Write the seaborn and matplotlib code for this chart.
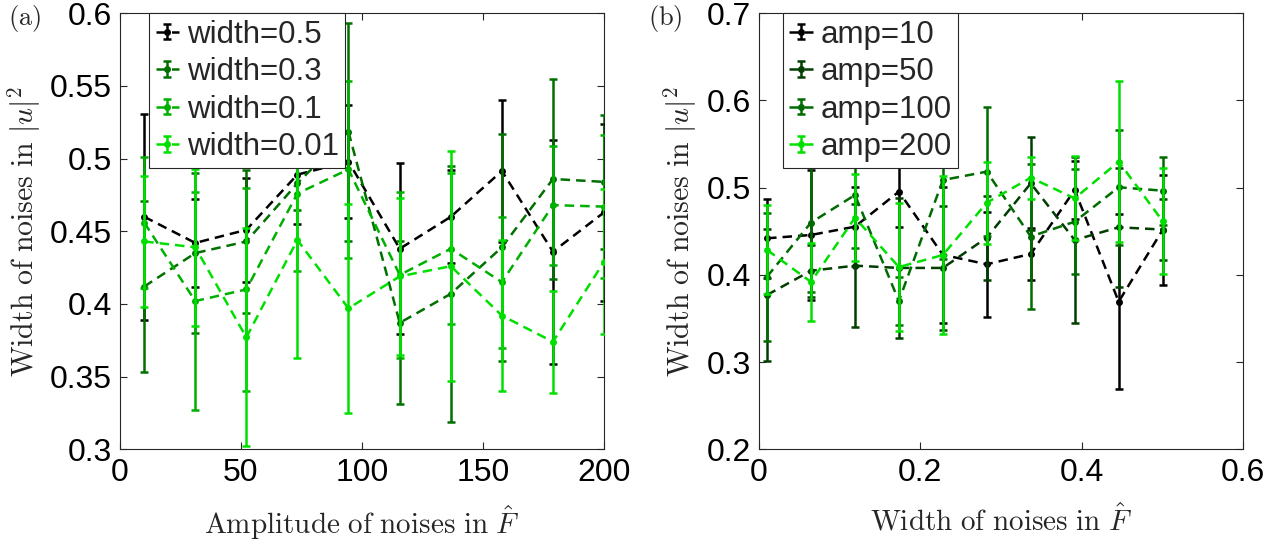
import numpy as np
import matplotlib
matplotlib.use("Agg")
import matplotlib.pyplot as plt
import seaborn as sns
from matplotlib.legend_handler import HandlerTuple, HandlerErrorbar
from matplotlib.container import ErrorbarContainer

# ---------------- data ----------------
amp_x = [10, 31.1, 52.2, 73.3, 94.4, 115.6, 136.7, 157.8, 178.9, 200]
width_labels = ["width=0.5", "width=0.3", "width=0.1", "width=0.01"]
w05_mean = [0.460, 0.442, 0.451, 0.489, 0.498, 0.438, 0.460, 0.4915, 0.436, 0.463]
w05_err = [0.071, 0.030, 0.036, 0.034, 0.039, 0.059, 0.032, 0.049, 0.077, 0.061]
w03_mean = [0.412, 0.435, 0.443, 0.483, 0.5185, 0.387, 0.407, 0.439, 0.486, 0.484]
w03_err = [0.059, 0.055, 0.049, 0.018, 0.075, 0.056, 0.088, 0.078, 0.069, 0.046]
w01_mean = [0.456, 0.402, 0.410, 0.476, 0.4926, 0.420, 0.438, 0.415, 0.468, 0.467]
w01_err = [0.045, 0.075, 0.070, 0.053, 0.061, 0.057, 0.052, 0.045, 0.041, 0.049]
w001_mean = [0.443, 0.439, 0.377, 0.444, 0.397, 0.419, 0.426, 0.392, 0.374, 0.429]
w001_err = [0.045, 0.054, 0.075, 0.081, 0.072, 0.054, 0.079, 0.052, 0.035, 0.050]

width_x = [0.01, 0.0644, 0.1189, 0.1733, 0.2278, 0.2822, 0.3367, 0.3911, 0.4456, 0.5]
amp_labels = ["amp=10", "amp=50", "amp=100", "amp=200"]
a10_mean = [0.442, 0.4458, 0.4553, 0.4955, 0.423, 0.4122, 0.424, 0.4974, 0.3693, 0.4515]
a10_err = [0.045, 0.075, 0.045, 0.040, 0.078, 0.060, 0.030, 0.033, 0.1006, 0.063]
a50_mean = [0.377, 0.4048, 0.4106, 0.408, 0.408, 0.4427, 0.505, 0.440, 0.4546, 0.452]
a50_err = [0.0754, 0.030, 0.0706, 0.080, 0.071, 0.048, 0.0535, 0.095, 0.068, 0.035]
a100_mean = [0.398, 0.460, 0.4916, 0.370, 0.5088, 0.5184, 0.444, 0.461, 0.5005, 0.4966]
a100_err = [0.0735, 0.080, 0.061, 0.028, 0.090, 0.074, 0.083, 0.060, 0.066, 0.039]
a200_mean = [0.4286, 0.392, 0.4656, 0.409, 0.4228, 0.4828, 0.5115, 0.4878, 0.5298, 0.4618]
a200_err = [0.051, 0.0447, 0.050, 0.073, 0.091, 0.047, 0.024, 0.048, 0.092, 0.061]

left_colors = ["#000000", "#007000", "#00b000", "#00e000"]
right_colors = ["#000000", "#003f00", "#006b00", "#00e000"]

# ---------------- style ----------------
sns.set_theme(style="white")
plt.rcParams["font.family"] = ["Liberation Sans", "DejaVu Sans"]
plt.rcParams["mathtext.fontset"] = "cm"

W, H = 1281, 551
fig = plt.figure(figsize=(W / 100, H / 100), dpi=100)
axA = fig.add_axes([120 / W, 1 - 449.3 / H, 484 / W, 436 / H])
axB = fig.add_axes([759 / W, 1 - 449.3 / H, 484.3 / W, 436 / H])


def draw(ax, x, means, errs, colors, labels, leg_x):
    handles = []
    for i, (m, e, c) in enumerate(zip(means, errs, colors)):
        z = 3 + i
        sns.lineplot(x=x, y=m, ax=ax, color=c, marker="o", markersize=5,
                     markeredgewidth=0, linewidth=1.8, zorder=z,
                     legend=False, errorbar=None)
        line = ax.lines[-1]
        line.set_dashes([3.8, 2.4])
        eb = ax.errorbar(x, m, yerr=e, fmt="none", ecolor=c, elinewidth=1.8,
                         capsize=2.6, capthick=1.8, zorder=z)
        handles.append((line, eb))
    leg = ax.legend(handles, labels,
                    handler_map={tuple: HandlerTuple(ndivide=1),
                                 ErrorbarContainer: HandlerErrorbar(xerr_size=0.25, yerr_size=0.25)},
                    loc="upper left", bbox_to_anchor=(leg_x, 1.0), borderaxespad=0,
                    fontsize=22.5, frameon=True, fancybox=False, edgecolor="#262626",
                    framealpha=1, handlelength=0.75, handletextpad=0.25,
                    labelspacing=0.24, borderpad=0.2)
    leg.get_frame().set_linewidth(0.8)
    leg.set_zorder(20)
    for s in ax.spines.values():
        s.set_color("#262626")
        s.set_linewidth(0.8)
    ax.tick_params(direction="in", length=5, width=0.8, top=True, right=True,
                   bottom=True, left=True, labelsize=23, labelcolor="black",
                   color="#262626", pad=6)


draw(axA, amp_x, [w05_mean, w03_mean, w01_mean, w001_mean],
     [w05_err, w03_err, w01_err, w001_err], left_colors, width_labels, 0.0605)
draw(axB, width_x, [a10_mean, a50_mean, a100_mean, a200_mean],
     [a10_err, a50_err, a100_err, a200_err], right_colors, amp_labels, 0.05)

axA.set_xlim(0, 200)
axA.set_ylim(0.3, 0.6)
axA.set_xticks([0, 50, 100, 150, 200])
axA.set_yticks([0.3, 0.35, 0.4, 0.45, 0.5, 0.55, 0.6])
axA.set_yticklabels(["0.3", "0.35", "0.4", "0.45", "0.5", "0.55", "0.6"])

axB.set_xlim(0, 0.6)
axB.set_ylim(0.2, 0.7)
axB.set_xticks([0, 0.2, 0.4, 0.6])
axB.set_xticklabels(["0", "0.2", "0.4", "0.6"])
axB.set_yticks([0.2, 0.3, 0.4, 0.5, 0.6, 0.7])
axB.set_yticklabels(["0.2", "0.3", "0.4", "0.5", "0.6", "0.7"])

axA.set_xlabel(r"$\mathrm{Amplitude\ of\ noises\ in}\ \hat{F}$", fontsize=21, labelpad=12)
axA.set_ylabel(r"$\mathrm{Width\ of\ noises\ in}\ |u|^2$", fontsize=21.5, labelpad=5)
axB.set_xlabel(r"$\mathrm{Width\ of\ noises\ in}\ \hat{F}$", fontsize=21, labelpad=12)
axB.set_ylabel(r"$\mathrm{Width\ of\ noises\ in}\ |u|^2$", fontsize=21.5, labelpad=5)

fig.text(8 / W, 1 - 18 / H, r"$\mathrm{(a)}$", fontsize=19, ha="left", va="center")
fig.text(648 / W, 1 - 18 / H, r"$\mathrm{(b)}$", fontsize=19, ha="left", va="center")

fig.savefig("out.png", dpi=100)
